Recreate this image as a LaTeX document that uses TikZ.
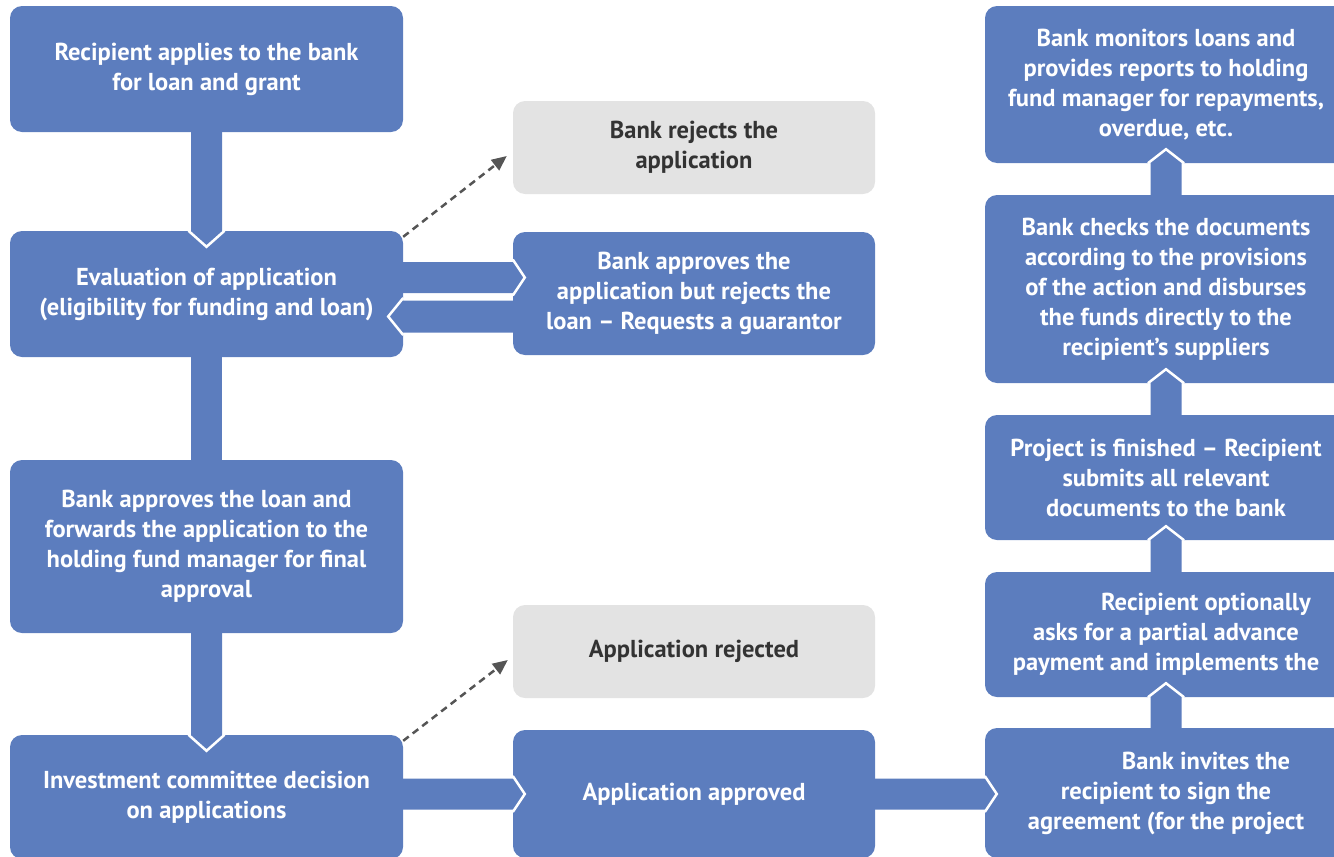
\documentclass[tikz,border=0pt]{standalone}
\usepackage{fontspec}
\setmainfont{PT Sans}
\usepackage{tikz}
\usetikzlibrary{arrows.meta}
\usetikzlibrary{calc}
\definecolor{boxblue}{RGB}{92,125,190}
\definecolor{boxgrey}{RGB}{227,227,227}
\definecolor{textgrey}{RGB}{51,51,51}
\definecolor{arrowgrey}{RGB}{85,85,85}
\tikzset{
    stepbox/.style={rectangle, rounded corners=12pt, fill=boxblue, text=white,
        font=\fontsize{24.5}{30}\selectfont\bfseries, align=center, inner sep=0pt},
    rejbox/.style={stepbox, fill=boxgrey, text=textgrey},
    flow/.style={fill=boxblue},
    notch/.style={draw=white, line width=2.5pt, line join=miter},
    dasharrow/.style={draw=arrowgrey, line width=2.5pt, dash pattern=on 7pt off 5pt,
        -{Triangle[length=15pt,width=13pt]}},
}

\begin{document}
\begin{tikzpicture}[x=1pt,y=-1pt]
	\useasboundingbox (0,0) rectangle (1334,857);
	% left column
	\node[stepbox, minimum width=393, minimum height=126] (apply) at (206.5,69) {Recipient applies to the bank\\for loan and grant};
	\node[stepbox, minimum width=393, minimum height=126] (evaluate) at (206.5,294) {Evaluation of application\\(eligibility for funding and loan)};
	\node[stepbox, minimum width=393, minimum height=173] (forward) at (206.5,546.5) {Bank approves the loan and\\forwards the application to the\\holding fund manager for final\\approval};
	\node[stepbox, minimum width=393, minimum height=124] (committee) at (206.5,797) {Investment committee decision\\on applications};
	% middle column
	\node[rejbox, minimum width=362, minimum height=93] (bankrejects) at (694,147.5) {Bank rejects the\\application};
	\node[stepbox, minimum width=362, minimum height=123] (guarantor) at (694,293.5) {Bank approves the\\application but rejects the\\loan -- Requests a guarantor};
	\node[rejbox, minimum width=362, minimum height=93] (rejected) at (694,651.5) {Application rejected};
	\node[stepbox, minimum width=362, minimum height=128] (approved) at (694,794) {Application approved};
	% right column
	\node[stepbox, minimum width=362, minimum height=157] (monitor) at (1166,84.5) {Bank monitors loans and\\provides reports to holding\\fund manager for repayments,\\overdue, etc.};
	\node[stepbox, minimum width=362, minimum height=188] (disburse) at (1166,289) {Bank checks the documents\\according to the provisions\\of the action and disburses\\the funds directly to the\\recipient’s suppliers};
	\node[stepbox, minimum width=362, minimum height=125] (finish) at (1166,477.5) {Project is finished -- Recipient\\submits all relevant\\documents to the bank};
	\node[stepbox, minimum width=362, minimum height=125] (advance) at (1166,634.5) {\hspace*{80pt}Recipient optionally\\asks for a partial advance\\payment and implements the};
	\node[stepbox, minimum width=362, minimum height=130] (invite) at (1166,793) {\hspace*{80pt}Bank invites the\\recipient to sign the\\agreement (for the project};

	% downward links
	\foreach \s/\t in {apply/evaluate, forward/committee} {
		\fill[flow] ($(\s.south)+(-15.5,0)$) -- ($(\t.north)+(-15.5,0)$) -- ($(\t.north)+(0,16)$) -- ($(\t.north)+(15.5,0)$) -- ($(\s.south)+(15.5,0)$) -- cycle;
		\draw[notch] ($(\t.north)+(-18,0)$) -- ($(\t.north)+(0,16)$) -- ($(\t.north)+(18,0)$);
	}
	\fill[flow] ($(evaluate.south)+(-15.5,0)$) rectangle ($(forward.north)+(15.5,0)$);
	% upward links
	\foreach \s/\t in {invite/advance, advance/finish, finish/disburse, disburse/monitor} {
		\fill[flow] ($(\s.north)+(-15.5,0)$) -- ($(\t.south)+(-15.5,0)$) -- ($(\t.south)+(0,-14)$) -- ($(\t.south)+(15.5,0)$) -- ($(\s.north)+(15.5,0)$) -- cycle;
		\draw[notch] ($(\t.south)+(-18,0)$) -- ($(\t.south)+(0,-14)$) -- ($(\t.south)+(18,0)$);
	}
	% links to the right
	\foreach \s/\t/\y in {evaluate/guarantor/277.5, committee/approved/794, approved/invite/794} {
		\fill[flow] (\s.east |- 0,\y-15.5) -- (\t.west |- 0,\y-15.5) -- ($(\t.west |- 0,\y)+(12,0)$) -- (\t.west |- 0,\y+15.5) -- (\s.east |- 0,\y+15.5) -- cycle;
		\draw[notch] (\t.west |- 0,\y-18) -- ($(\t.west |- 0,\y)+(12,0)$) -- (\t.west |- 0,\y+18);
	}
	% link back to the left
	\fill[flow] (guarantor.west |- 0,300.5) -- (evaluate.east |- 0,300.5) -- ($(evaluate.east |- 0,316.5)+(-15,0)$) -- (evaluate.east |- 0,332.5) -- (guarantor.west |- 0,332.5) -- cycle;
	\draw[notch] (evaluate.east |- 0,298) -- ($(evaluate.east |- 0,316.5)+(-15,0)$) -- (evaluate.east |- 0,335);

	% rejections
	\draw[dasharrow] ([yshift=-6pt]evaluate.north east) -- ([xshift=-6pt,yshift=-8.5pt]bankrejects.west);
	\draw[dasharrow] ([yshift=-6pt]committee.north east) -- ([xshift=-5pt,yshift=-8.5pt]rejected.west);
\end{tikzpicture}
\end{document}
